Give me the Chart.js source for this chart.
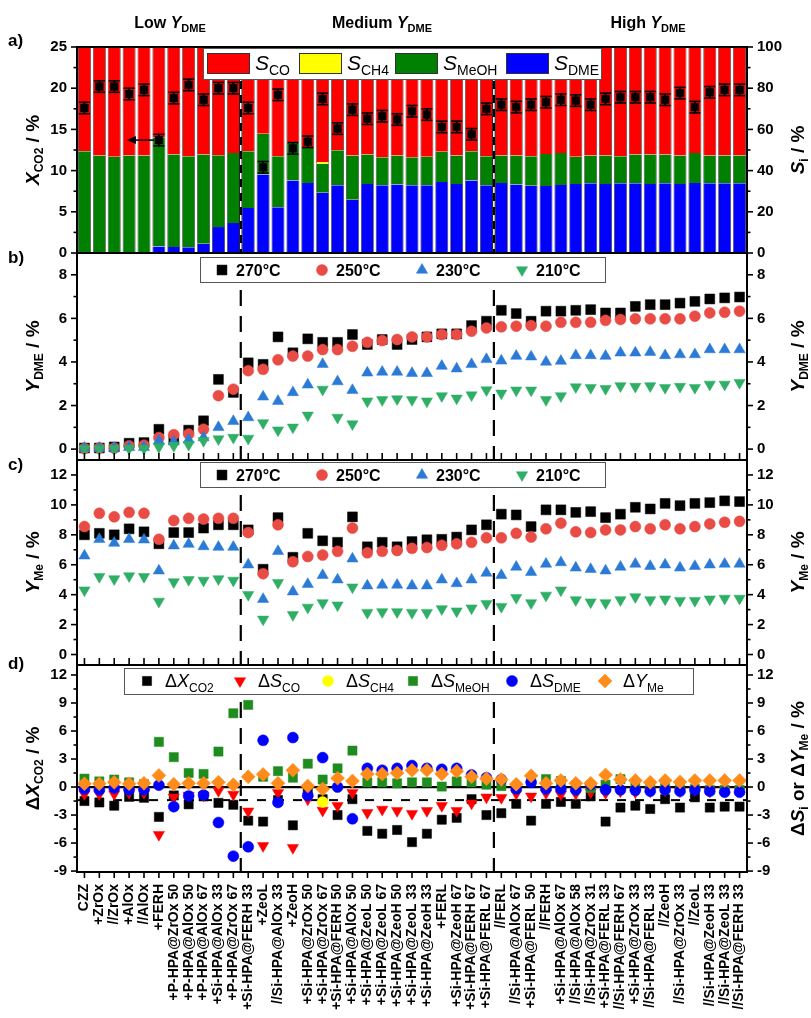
<!DOCTYPE html>
<html><head><meta charset="utf-8"><title>Catalyst screening chart</title>
<script src="https://cdn.jsdelivr.net/npm/chart.js@4.4.1/dist/chart.umd.min.js"></script>
<style>
html,body{margin:0;padding:0;background:#fff;}
#wrap{position:relative;width:811px;height:1018px;overflow:hidden;background:#fff}
#wrap canvas{position:absolute;left:0;top:0}
</style></head><body><div id="wrap">
<canvas id="cA" width="811" height="1018"></canvas>
<canvas id="cB" width="811" height="1018"></canvas>
<canvas id="cC" width="811" height="1018"></canvas>
<canvas id="cD" width="811" height="1018"></canvas>
</div>
<script>
// ---------------- DATA ----------------
const categories = ['CZZ','+ZrOx','//ZrOx','+AlOx','//AlOx','+FERH','+P-HPA@ZrOx 50','+P-HPA@AlOx 50','+P-HPA@AlOx 67','+Si-HPA@AlOx 33','+P-HPA@ZrOx 67',
 '+Si-HPA@FERH 33','+ZeoL','//Si-HPA@AlOx 33','+ZeoH','+Si-HPA@ZrOx 50','+Si-HPA@ZrOx 67','+Si-HPA@FERH 50','+Si-HPA@AlOx 50','+Si-HPA@ZeoL 50','+Si-HPA@ZeoL 67','+Si-HPA@ZeoH 50','+Si-HPA@ZeoL 33','+Si-HPA@ZeoH 33','+FERL','+Si-HPA@ZeoH 67','+Si-HPA@FERH 67','+Si-HPA@FERL 67',
 '//FERL','//Si-HPA@AlOx 67','+Si-HPA@FERL 50','//FERH','+Si-HPA@AlOx 67','//Si-HPA@AlOx 58','//Si-HPA@ZrOx 31','+Si-HPA@FERL 33','//Si-HPA@FERH 67','+Si-HPA@ZrOx 33','//Si-HPA@FERL 33','//ZeoH','//Si-HPA@ZrOx 33','//ZeoL','//Si-HPA@ZeoH 33','//Si-HPA@ZeoL 33','//Si-HPA@FERH 33'];
const groupSizes = [11, 17, 17];          // Low / Medium / High Y_DME groups
const groupNames = ['Low', 'Medium', 'High'];

// panel a: selectivities (%) and CO2 conversion (%)
const sDME  = [0,0,0,0,0,3.2,2.9,2.8,4.5,12.6,14.6,
  21.9,38.1,22.2,35.2,34.0,29.2,32.9,25.9,33.5,32.9,33.2,32.9,32.9,34.5,33.5,35.2,32.9,
  34.0,33.2,32.7,32.5,33.0,33.5,33.8,33.5,33.8,33.8,33.5,33.8,33.5,34.0,33.8,33.8,33.8];
const sMeOH = [49.4,47.3,46.7,47.3,47.3,52.7,44.9,44.2,43.3,34.9,34.0,
  27.5,19.8,24.8,18.3,17.0,14.1,17.0,21.4,14.3,13.6,14.1,13.6,13.8,14.6,13.8,14.2,14.1,
  13.3,14.1,14.3,15.6,15.6,13.2,13.5,13.8,13.2,14.0,14.3,14.0,13.8,14.6,13.5,13.5,13.5];
const sCH4  = [0,0,0,0,0,0,0,0,0,0,0,
  0,0,0,0,0,0.9,0,0,0,0,0,0,0,0,0,0,0,
  0,0,0,0,0,0,0,0,0,0,0,0,0,0,0,0,0];
const sCO   = [50.6,52.7,53.3,52.7,52.7,44.1,52.2,53.0,52.2,52.5,51.4,
  50.6,42.1,53.0,46.5,49.0,55.8,50.1,52.7,52.2,53.5,52.7,53.5,53.3,50.9,52.7,50.6,53.0,
  52.7,52.7,53.0,51.9,51.4,53.3,52.7,52.7,53.0,52.2,52.2,52.2,52.7,51.4,52.7,52.7,52.7];
const xCO2  = [17.6,20.2,20.2,19.3,19.8,13.7,18.8,20.4,18.6,20.0,20.0,
  17.6,10.4,19.2,12.7,13.5,18.7,15.1,17.4,16.3,16.6,16.2,17.2,16.8,15.3,15.3,14.4,17.5,
  18.0,17.7,18.0,18.3,18.6,18.5,18.0,18.7,18.9,18.9,18.9,18.6,19.4,17.7,19.5,19.8,19.8];
const xCO2Err = [0.7,0.7,0.7,0.7,0.7,0.7,0.7,0.7,0.7,0.7,0.7,
  0.7,0.7,0.7,0.7,0.7,0.7,0.7,0.7,0.7,0.7,0.7,0.7,0.7,0.7,0.7,0.7,0.7,
  0.7,0.7,0.7,0.7,0.7,0.7,0.7,0.7,0.7,0.7,0.7,0.7,0.7,0.7,0.7,0.7,0.7];

// panel b: DME yield (%)
const yDME270 = [0.05,0.05,0.1,0.27,0.3,0.91,0.45,0.87,1.3,3.2,2.6,
  3.96,3.89,5.15,4.42,5.06,4.9,4.9,5.26,4.8,5.03,4.8,5.03,5.15,5.29,5.29,5.67,5.87,
  6.37,6.22,5.87,6.33,6.33,6.37,6.4,6.25,6.25,6.55,6.63,6.63,6.7,6.78,6.89,6.94,6.98];
const yDME250 = [0.03,0.05,0.05,0.15,0.18,0.53,0.66,0.69,0.91,2.45,2.75,
  3.6,3.66,4.1,4.27,4.27,4.57,4.57,4.72,4.9,4.98,5.03,5.15,5.15,5.26,5.26,5.41,5.56,
  5.61,5.64,5.67,5.64,5.82,5.82,5.82,5.91,5.95,5.98,5.98,5.98,5.98,6.1,6.25,6.28,6.33];
const yDME230 = [0.05,0.05,0.05,0.08,0.08,0.38,0.34,0.43,0.53,1.0,1.28,
  1.45,2.4,2.2,2.6,2.95,3.9,3.1,2.7,3.5,3.54,3.54,3.48,3.48,3.81,3.69,3.89,4.12,
  4.05,4.27,4.24,4.0,4.04,4.3,4.3,4.27,4.42,4.42,4.45,4.3,4.34,4.34,4.57,4.57,4.57];
const yDME210 = [0.02,0.02,0.02,0.03,0.03,0.1,0.15,0.2,0.38,0.46,0.53,
  0.49,1.2,0.87,1.0,1.55,2.74,1.45,1.15,2.2,2.26,2.3,2.26,2.2,2.44,2.33,2.48,2.71,
  2.56,2.7,2.7,2.26,2.44,2.85,2.82,2.77,2.9,2.87,2.9,2.82,2.87,2.82,2.97,2.97,3.05];

// panel c: methyl yield (%)
const yMe270 = [8.0,8.1,8.0,8.4,8.2,7.4,8.15,8.15,8.45,8.67,8.67,
  8.33,5.7,9.15,6.5,8.1,7.6,7.5,9.2,7.2,7.5,7.2,7.55,7.67,7.7,7.85,8.33,8.67,
  9.38,9.33,8.55,9.67,9.67,9.5,9.55,9.15,9.38,9.84,9.73,10.1,9.95,10.1,10.15,10.27,10.22];
const yMe250 = [8.55,9.44,9.2,9.5,9.44,7.7,8.95,9.1,9.05,9.1,9.1,
  8.15,5.4,8.67,6.2,6.55,6.65,6.9,8.45,6.8,6.9,6.95,7.1,7.15,7.3,7.4,7.5,7.8,
  7.8,8.1,7.85,8.4,8.78,8.2,8.15,8.33,8.33,8.55,8.4,8.67,8.4,8.55,8.73,8.84,8.9];
const yMe230 = [6.6,7.7,7.45,7.7,7.67,5.6,7.27,7.38,7.22,7.18,7.18,
  6.0,3.7,6.9,4.2,4.7,5.3,5.0,6.4,4.6,4.65,4.65,4.6,4.6,5.0,4.75,5.0,5.45,
  5.3,5.85,5.5,6.05,6.15,5.8,5.7,5.6,5.85,6.05,5.9,6.0,5.8,5.9,6.0,6.05,6.05];
const yMe210 = [4.3,5.2,5.05,5.25,5.2,3.55,4.85,5.0,4.95,5.05,4.95,
  4.0,2.35,4.8,2.65,3.15,3.45,3.3,4.5,2.8,2.85,2.85,2.8,2.8,3.05,2.9,3.1,3.4,
  3.2,3.8,3.45,3.95,4.3,3.65,3.5,3.45,3.65,3.85,3.65,3.7,3.6,3.6,3.7,3.75,3.75];

// panel d: differences vs. reference (%)
const dXCO2 = [-1.5,-1.65,-2.0,-1.05,-1.15,-3.2,-0.9,-1.85,-1.0,-1.7,-1.9,
  -3.6,-3.7,-1.4,-4.1,-0.6,-1.3,-3.0,-1.3,-4.7,-5.0,-4.6,-5.9,-5.0,-3.5,-3.3,-1.3,-3.0,
  -2.8,-1.8,-3.6,-1.8,-1.6,-1.8,-1.0,-3.7,-2.2,-2.0,-2.35,-1.3,-2.2,-1.1,-2.2,-2.1,-2.1];
const dSCO = [-0.75,-0.75,-0.75,-0.6,-0.6,-5.1,-1.1,-0.9,-0.9,-0.4,-0.8,
  -2.6,-6.3,-0.6,-6.5,-1.3,-2.5,-2.0,-0.6,-2.75,-2.4,-2.55,-2.85,-2.55,-2.0,-2.55,-1.75,-1.1,
  -1.15,-0.7,-1.0,-0.65,-0.8,-0.7,-0.55,-0.65,-0.45,-0.55,-0.45,-0.35,-0.45,-0.3,-0.45,-0.3,-0.35];
const dSCH4 = [null,null,null,null,null,null,null,null,null,null,null,
  null,null,null,null,null,-1.6,null,null,null,null,null,null,null,null,null,null,null,
  null,null,null,null,null,null,null,null,null,null,null,null,null,null,null,null,null];
const dSMeOH = [0.9,0.6,0.8,0.5,0.3,4.84,3.2,1.5,1.4,3.8,7.9,
  8.8,1.1,1.7,1.0,2.5,0.8,2.0,3.9,0.5,0.5,0.4,0.5,0.5,0.05,0.6,0.5,0.25,
  0.1,-0.1,0.6,0.85,0.65,0.15,-0.1,0.25,0.85,0.0,-0.1,-0.1,-0.2,-0.2,-0.3,-0.3,-0.3];
const dSDME = [-0.2,-0.3,-0.1,-0.3,-0.3,0.2,-2.1,-0.95,-0.85,-3.8,-7.4,
  -6.4,5.0,-1.65,5.3,-0.9,3.15,0.0,-3.4,2.0,1.8,2.0,2.3,2.0,1.9,2.0,1.3,1.0,
  0.8,-0.2,0.5,-0.2,-0.2,-0.3,0.25,-0.3,-0.3,-0.35,-0.45,-0.3,-0.45,-0.3,-0.45,-0.55,-0.55];
const dYMe = [0.35,0.35,0.5,0.35,0.4,1.24,0.3,0.4,0.4,0.5,0.25,
  1.1,1.35,0.4,1.8,0.1,-0.2,0.95,0.65,1.4,1.4,1.5,1.8,1.8,1.4,1.7,1.1,0.9,
  0.8,0.3,1.2,0.4,0.7,0.4,0.4,1.3,0.8,0.7,0.5,0.7,0.55,0.7,0.7,0.7,0.7];
const dXCO2Ref = -1.4;

// tick labels
const ticksXCO2 = [0,5,10,15,20,25],  minorXCO2 = [2.5,7.5,12.5,17.5,22.5];
const ticksSi   = [0,20,40,60,80,100], minorSi  = [10,30,50,70,90];
const ticksYDME = [0,2,4,6,8],         minorYDME = [1,3,5,7];
const ticksYMe  = [0,2,4,6,8,10,12],   minorYMe  = [1,3,5,7,9,11];
const ticksDelta = [-9,-6,-3,0,3,6,9,12], minorDelta = [-7.5,-4.5,-1.5,1.5,4.5,7.5,10.5];

// ---------------- STYLE / LAYOUT ----------------
const FONT = "'Liberation Sans', Arial, Helvetica, sans-serif";
Chart.defaults.font.family = FONT;
Chart.defaults.color = '#000';
const W = 811, H = 1018, LEFT = 77, RIGHT = 747;
const PANEL = {a:[47,253], b:[253,460], c:[460,665], d:[665,872]};
const boundaries = [groupSizes[0]-0.5, groupSizes[0]+groupSizes[1]-0.5];

const S = (t, sz, o) => Object.assign({t, sz}, o || {});
function fnt(s){ return (s.i?'italic ':'') + (s.b?'bold ':'') + s.sz + 'px ' + FONT; }
function rich(ctx, segs, x, y, align, rot){
  ctx.save(); ctx.translate(x, y); if (rot) ctx.rotate(rot);
  let w = 0; segs.forEach(s => { ctx.font = fnt(s); w += ctx.measureText(s.t).width; });
  let cx = align === 'center' ? -w/2 : (align === 'right' ? -w : 0);
  ctx.textBaseline = 'alphabetic'; ctx.textAlign = 'left'; ctx.fillStyle = '#000';
  segs.forEach(s => { ctx.font = fnt(s); ctx.fillText(s.t, cx, s.dy || 0); cx += ctx.measureText(s.t).width; });
  ctx.restore();
}
function line(ctx, x1, y1, x2, y2){ ctx.beginPath(); ctx.moveTo(x1,y1); ctx.lineTo(x2,y2); ctx.stroke(); }
function frame(chart){
  const a = chart.chartArea, ctx = chart.ctx;
  ctx.save(); ctx.strokeStyle = '#000'; ctx.lineWidth = 2;
  ctx.strokeRect(a.left, a.top, a.right-a.left, a.bottom-a.top); ctx.restore();
}
function yTicks(chart, id, side, majors, minors){
  const ctx = chart.ctx, s = chart.scales[id], a = chart.chartArea;
  const x0 = side === 'left' ? a.left : a.right, d = side === 'left' ? -1 : 1;
  ctx.save(); ctx.strokeStyle = '#000'; ctx.lineWidth = 1.6;
  majors.forEach(v => { const y = s.getPixelForValue(v); line(ctx, x0, y, x0+d*6, y); });
  minors.forEach(v => { const y = s.getPixelForValue(v); line(ctx, x0, y, x0+d*3.5, y); });
  ctx.restore();
}
function catTicks(chart, y, dir, len){
  const ctx = chart.ctx, xs = chart.scales.x;
  ctx.save(); ctx.strokeStyle = '#000'; ctx.lineWidth = 1.6;
  categories.forEach((c, i) => { const x = xs.getPixelForValue(i); line(ctx, x, y, x, y + dir*len); });
  ctx.restore();
}
function groupDashes(chart, y0, y1){
  const ctx = chart.ctx, xs = chart.scales.x;
  ctx.save(); ctx.strokeStyle = '#000'; ctx.lineWidth = 2.2; ctx.setLineDash([16, 10]);
  boundaries.forEach(b => { const x = xs.getPixelForValue(b); line(ctx, x, y0, x, y1); });
  ctx.restore();
}
function mark(ctx, style, r, rot, color, x, y){
  ctx.save(); ctx.fillStyle = color; ctx.strokeStyle = color;
  Chart.helpers.drawPoint(ctx, {pointStyle: style, radius: r, rotation: rot || 0, borderWidth: 0.5}, x, y);
  ctx.restore();
}
function box(ctx, x, y, w, h){
  ctx.save(); ctx.fillStyle = '#fff'; ctx.fillRect(x, y, w, h);
  ctx.strokeStyle = '#555'; ctx.lineWidth = 1; ctx.strokeRect(x+0.5, y+0.5, w, h); ctx.restore();
}
function yAxis(pos, min, max, vals, extra){
  return Object.assign({
    type: 'linear', position: pos, min, max,
    grid: {display: false, drawTicks: false}, border: {display: false},
    afterBuildTicks: s => { s.ticks = vals.map(v => ({value: v})); },
    afterFit: s => { s.width = pos === 'left' ? LEFT : W - RIGHT; },
    ticks: {font: {size: 15, weight: 'bold', family: FONT}, color: '#000', padding: 10, callback: v => String(v)}
  }, extra || {});
}
function xHidden(stacked){
  return {type: 'category', labels: categories, offset: true, stacked: !!stacked, display: false,
    grid: {display: false}, border: {display: false}};
}
function baseOpts(p, scales, bottomPad){
  return {
    responsive: false, animation: false, devicePixelRatio: 1, events: [],
    layout: {padding: {left: 0, right: 0, top: p[0], bottom: bottomPad}},
    plugins: {legend: {display: false}, tooltip: {enabled: false}},
    scales
  };
}
function markerDS(label, data, style, r, rot, color, order){
  return {label, data, showLine: false, pointStyle: style, pointRadius: r, pointHoverRadius: r,
    pointRotation: rot || 0, pointBackgroundColor: color, pointBorderColor: color, pointBorderWidth: 0.5,
    order, clip: false, yAxisID: 'y'};
}
function panelLetter(ctx, t, yc){ rich(ctx, [S(t, 17, {b:1})], 8, yc + 6, 'left'); }
function sideTitles(chart, left, right){
  const a = chart.chartArea, yc = (a.top + a.bottom) / 2, ctx = chart.ctx;
  rich(ctx, left, 39, yc, 'center', -Math.PI/2);
  rich(ctx, right, 804, yc, 'center', -Math.PI/2);
}

// ---------------- PANEL A ----------------
const barStyle = {barPercentage: 0.87, categoryPercentage: 1, borderColor: '#3a3a3a',
  borderWidth: {left: 0.8, right: 0.8, top: 0, bottom: 0}, borderSkipped: false, yAxisID: 'yS', stack: 's', order: 1};
const arrowFromIndex = 5, arrowToIndex = 2.85;
new Chart(document.getElementById('cA'), {
  type: 'bar',
  data: {labels: categories, datasets: [
    Object.assign({label: 'S_DME', data: sDME, backgroundColor: '#0000FF'}, barStyle),
    Object.assign({label: 'S_MeOH', data: sMeOH, backgroundColor: '#008000'}, barStyle),
    Object.assign({label: 'S_CH4', data: sCH4, backgroundColor: '#FFFF00'}, barStyle),
    Object.assign({label: 'S_CO', data: sCO, backgroundColor: '#FF0000'}, barStyle),
    {type: 'line', label: 'X_CO2', data: xCO2, yAxisID: 'yX', showLine: false, pointStyle: 'rect',
     pointRadius: 5.5, pointBackgroundColor: '#000', pointBorderColor: '#000', pointBorderWidth: 0.5, order: 0, clip: false}
  ]},
  options: baseOpts(PANEL.a, {
    x: xHidden(true),
    yX: yAxis('left', 0, 25, ticksXCO2),
    yS: yAxis('right', 0, 100, ticksSi, {stacked: true})
  }, H - PANEL.a[1]),
  plugins: [{
    id: 'decoA',
    beforeDatasetDraw(chart, args){
      if (args.index !== 4) return;
      const ctx = chart.ctx, a = chart.chartArea, xs = chart.scales.x, ys = chart.scales.yX;
      ctx.save();
      boundaries.forEach(b => {
        const x = xs.getPixelForValue(b);
        ctx.setLineDash([]); ctx.strokeStyle = '#000'; ctx.lineWidth = 3; line(ctx, x, a.top, x, a.bottom);
        ctx.setLineDash([6, 8]); ctx.strokeStyle = '#fff'; ctx.lineWidth = 1.6; line(ctx, x, a.top, x, a.bottom);
      });
      ctx.setLineDash([]); ctx.strokeStyle = '#000'; ctx.lineWidth = 1.6;
      xCO2.forEach((v, i) => {
        const x = xs.getPixelForValue(i), y1 = ys.getPixelForValue(v + xCO2Err[i]), y2 = ys.getPixelForValue(v - xCO2Err[i]);
        line(ctx, x, y1, x, y2); line(ctx, x-5.5, y1, x+5.5, y1); line(ctx, x-5.5, y2, x+5.5, y2);
      });
      // arrow pointing to left axis
      const ya = ys.getPixelForValue(xCO2[arrowFromIndex]);
      const xs0 = xs.getPixelForValue(arrowFromIndex) - 5, xt = xs.getPixelForValue(arrowToIndex);
      ctx.lineWidth = 1.5; line(ctx, xs0, ya, xt + 6, ya);
      ctx.fillStyle = '#000'; ctx.beginPath(); ctx.moveTo(xt, ya); ctx.lineTo(xt + 9, ya - 4); ctx.lineTo(xt + 9, ya + 4); ctx.closePath(); ctx.fill();
      ctx.restore();
    },
    afterDatasetsDraw(chart){
      const ctx = chart.ctx;
      box(ctx, 203, 48, 398, 31);
      [[207, '#FF0000', 'CO'], [299, '#FFFF00', 'CH4'], [395, '#008000', 'MeOH'], [506, '#0000FF', 'DME']].forEach(([x, c, sub]) => {
        ctx.save(); ctx.fillStyle = c; ctx.fillRect(x, 53, 42, 20); ctx.strokeStyle = '#333'; ctx.lineWidth = 1; ctx.strokeRect(x+0.5, 53.5, 42, 20); ctx.restore();
        rich(ctx, [S('S', 21, {i:1}), S(sub, 14, {dy:5})], x + 48, 70, 'left');
      });
      frame(chart);
      yTicks(chart, 'yX', 'left', ticksXCO2, minorXCO2);
      yTicks(chart, 'yS', 'right', ticksSi, minorSi);
    },
    afterDraw(chart){
      const ctx = chart.ctx;
      [170, 382, 648].forEach((x, k) => rich(ctx, [S(groupNames[k] + ' ', 16, {b:1}), S('Y', 16, {b:1, i:1}), S('DME', 11, {b:1, dy:4})], x, 28, 'center'));
      panelLetter(ctx, 'a)', 40);
      sideTitles(chart,
        [S('X', 19, {b:1, i:1}), S('CO2', 12, {b:1, dy:4}), S(' / %', 19, {b:1})],
        [S('S', 19, {b:1, i:1}), S('i', 12, {b:1, dy:4}), S(' / %', 19, {b:1})]);
    }
  }]
});

// ---------------- PANELS B & C ----------------
const tempStyles = [
  {label: '270°C', style: 'rect', r: 7, rot: 0, color: '#000000', order: 4},
  {label: '250°C', style: 'circle', r: 5.5, rot: 0, color: '#E94B45', order: 3},
  {label: '230°C', style: 'triangle', r: 6.5, rot: 0, color: '#2B7BD6', order: 2},
  {label: '210°C', style: 'triangle', r: 6.5, rot: 180, color: '#2FAE66', order: 1}
];
function tempPanel(id, p, series, min, max, tks, minors, legendY, letter, lTitle, rTitle){
  new Chart(document.getElementById(id), {
    type: 'line',
    data: {labels: categories, datasets: series.map((d, k) => {
      const st = tempStyles[k]; return markerDS(st.label, d, st.style, st.r, st.rot, st.color, st.order); })},
    options: baseOpts(p, {
      x: xHidden(false),
      y: yAxis('left', min, max, tks),
      y2: yAxis('right', min, max, tks)
    }, H - p[1]),
    plugins: [{
      id: 'deco' + id,
      beforeDatasetsDraw(chart){ groupDashes(chart, legendY + 33, chart.chartArea.bottom); },
      afterDatasetsDraw(chart){
        const ctx = chart.ctx;
        box(ctx, 200, legendY, 405, 25);
        const cy = legendY + 13;
        tempStyles.forEach((st, k) => {
          const x = 222 + k*100;
          mark(ctx, st.style, st.r, st.rot, st.color, x, cy);
          rich(ctx, [S(st.label, 16, {b:1})], x + 14, cy + 6, 'left');
        });
        frame(chart);
        yTicks(chart, 'y', 'left', tks, minors);
        yTicks(chart, 'y2', 'right', tks, minors);
        catTicks(chart, chart.chartArea.bottom, -1, 7);
      },
      afterDraw(chart){
        panelLetter(chart.ctx, letter, p[0] + 4);
        sideTitles(chart, lTitle, rTitle);
      }
    }]
  });
}
const tYDME = [S('Y', 19, {b:1, i:1}), S('DME', 12, {b:1, dy:4}), S(' / %', 19, {b:1})];
const tYMe  = [S('Y', 19, {b:1, i:1}), S('Me', 12, {b:1, dy:4}), S(' / %', 19, {b:1})];
tempPanel('cB', PANEL.b, [yDME270, yDME250, yDME230, yDME210], -0.5, 9, ticksYDME, minorYDME, 257, 'b)', tYDME, tYDME);
tempPanel('cC', PANEL.c, [yMe270, yMe250, yMe230, yMe210], -0.7, 13, ticksYMe, minorYMe, 462, 'c)', tYMe, tYMe);

// ---------------- PANEL D ----------------
const deltaStyles = [
  {data: dXCO2,  style: 'rect',     r: 6.5, rot: 0,   color: '#000000', order: 6, main: 'X', sub: 'CO2'},
  {data: dSCO,   style: 'triangle', r: 6.5, rot: 180, color: '#FF0000', order: 5, main: 'S', sub: 'CO'},
  {data: dSCH4,  style: 'circle',   r: 5.5, rot: 0,   color: '#FFFF00', order: 4, main: 'S', sub: 'CH4'},
  {data: dSMeOH, style: 'rect',     r: 6.5, rot: 0,   color: '#1E8C1E', order: 3, main: 'S', sub: 'MeOH'},
  {data: dSDME,  style: 'circle',   r: 5.5, rot: 0,   color: '#0000FF', order: 2, main: 'S', sub: 'DME'},
  {data: dYMe,   style: 'rectRot',  r: 7,   rot: 0,   color: '#FF8C1A', order: 1, main: 'Y', sub: 'Me'}
];
const deltaLegendX = [147, 240, 328, 413, 512, 605];
new Chart(document.getElementById('cD'), {
  type: 'line',
  data: {labels: categories, datasets: deltaStyles.map(st => markerDS('Δ' + st.main + '_' + st.sub, st.data, st.style, st.r, st.rot, st.color, st.order))},
  options: baseOpts(PANEL.d, {
    x: {type: 'category', labels: categories, offset: true, display: true,
        grid: {display: false, drawTicks: false}, border: {display: false},
        ticks: {autoSkip: false, maxRotation: 90, minRotation: 90, padding: 12,
                font: {size: 14, weight: 'bold', family: FONT}, color: '#000'},
        afterFit: s => { s.height = H - PANEL.d[1]; }},
    y: yAxis('left', -9.1, 13.07, ticksDelta),
    y2: yAxis('right', -9.1, 13.07, ticksDelta)
  }, 0),
  plugins: [{
    id: 'decoD',
    beforeDatasetsDraw(chart){
      const ctx = chart.ctx, a = chart.chartArea, ys = chart.scales.y;
      groupDashes(chart, 702, a.bottom);
      ctx.save(); ctx.strokeStyle = '#000';
      ctx.lineWidth = 2.2; const y0 = ys.getPixelForValue(0); line(ctx, a.left, y0, a.right, y0);
      ctx.setLineDash([9, 9]); ctx.lineWidth = 2; const yr = ys.getPixelForValue(dXCO2Ref); line(ctx, a.left, yr, a.right, yr);
      ctx.restore();
    },
    afterDatasetsDraw(chart){
      const ctx = chart.ctx;
      box(ctx, 124, 668, 569, 26);
      const cy = 681;
      deltaStyles.forEach((st, k) => {
        const x = deltaLegendX[k];
        mark(ctx, st.style, st.r, st.rot, st.color, x, cy);
        rich(ctx, [S('Δ', 18), S(st.main, 18, {i:1}), S(st.sub, 12, {dy:5})], x + 18, cy + 6, 'left');
      });
      frame(chart);
      yTicks(chart, 'y', 'left', ticksDelta, minorDelta);
      yTicks(chart, 'y2', 'right', ticksDelta, minorDelta);
      catTicks(chart, chart.chartArea.bottom, 1, 6);
    },
    afterDraw(chart){
      panelLetter(chart.ctx, 'd)', PANEL.d[0] - 2);
      sideTitles(chart,
        [S('Δ', 19, {b:1}), S('X', 19, {b:1, i:1}), S('CO2', 12, {b:1, dy:4}), S(' / %', 19, {b:1})],
        [S('Δ', 19, {b:1}), S('S', 19, {b:1, i:1}), S('i', 12, {b:1, dy:4}), S(' or ', 19, {b:1}), S('Δ', 19, {b:1}), S('Y', 19, {b:1, i:1}), S('Me', 12, {b:1, dy:4}), S(' / %', 19, {b:1})]);
    }
  }]
});
</script></body></html>
